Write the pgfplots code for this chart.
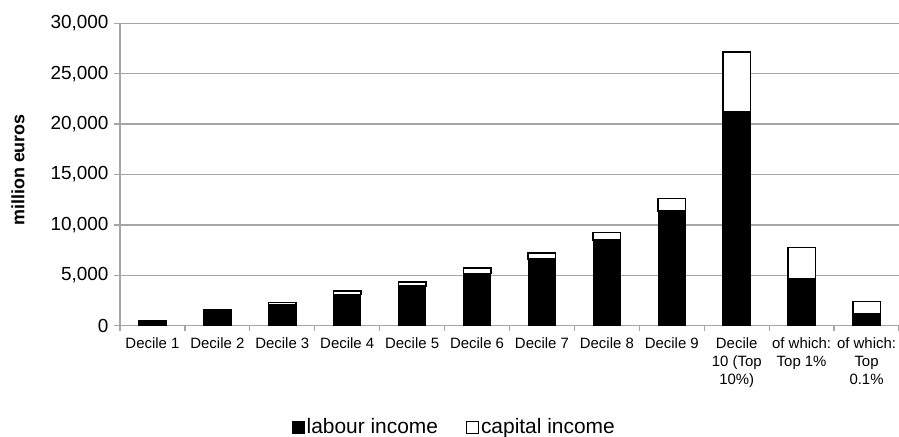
\documentclass[border=0pt]{standalone}
\usepackage{pgfplots}
\pgfplotsset{compat=1.18}
\usepackage{fontspec}
\setmainfont{Liberation Sans}
\definecolor{gridgray}{RGB}{166,166,166}
\begin{document}
\begin{tikzpicture}
\path[use as bounding box] (-120bp,-111.3bp) rectangle (779bp,325.7bp);
\begin{axis}[
  scale only axis,
  width=779bp, height=302.4bp,
  ybar stacked,
  bar width=27.5bp,
  xmin=-0.5, xmax=11.5,
  ymin=0, ymax=30000,
  ytick={0,5000,...,30000},
  xtick={0,...,11},
  xticklabels={Decile 1,Decile 2,Decile 3,Decile 4,Decile 5,Decile 6,Decile 7,Decile 8,Decile 9,{Decile\\10 (Top\\10\%)},{of which:\\Top 1\%},{of which:\\Top\\0.1\%}},
  minor xtick={-0.5,0.5,...,11.5},
  axis x line*=bottom,
  axis y line*=left,
  axis line style={gridgray, line width=1.3bp, -},
  tick align=outside,
  major tick length=6bp,
  minor tick length=5bp,
  major x tick style={draw=none},
  minor x tick style={gridgray, line width=1.3bp},
  ytick style={gridgray, line width=1.3bp},
  ymajorgrids,
  grid style={gridgray, line width=1.3bp},
  /pgf/number format/assume math mode=true,
  /pgf/number format/1000 sep={,},
  scaled y ticks=false,
  yticklabel style={font=\fontsize{19}{22}\selectfont, xshift=-2bp},
  xticklabel style={font=\fontsize{15}{18.5}\selectfont, align=center, yshift=-2bp},
  ylabel={\textbf{million euros}},
  ylabel style={font=\fontsize{18}{21}\selectfont, at={(axis description cs:-0.131,0.515)}, anchor=center},
  legend columns=2,
  legend style={draw=none, at={(axis description cs:0.429,-0.335)}, anchor=center,
    font=\fontsize{21}{24}\selectfont, /tikz/every even column/.append style={column sep=26bp}},
  legend image code/.code={\draw[#1, line width=1bp] (0bp,-6bp) rectangle (12bp,6bp);},
]
\addplot[fill=black, draw=black, line width=1bp] coordinates {
 (0,430) (1,1580) (2,2050) (3,3080) (4,3950) (5,5200) (6,6600) (7,8500) (8,11400) (9,21270) (10,4630) (11,1180)};
\addplot[fill=white, draw=black, line width=1.5bp] coordinates {
 (0,30) (1,30) (2,250) (3,350) (4,370) (5,500) (6,610) (7,730) (8,1200) (9,5880) (10,3120) (11,1220)};
\legend{labour income, capital income}
\end{axis}
\end{tikzpicture}
\end{document}
